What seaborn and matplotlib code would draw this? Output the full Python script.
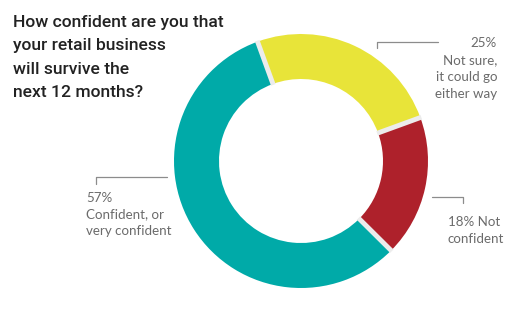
import numpy as np
import matplotlib
matplotlib.use("Agg")
import matplotlib.pyplot as plt
import seaborn as sns

# ---- data ----
categories = ["Not sure, it could go either way", "Not confident", "Confident, or very confident"]
values = [25, 18, 57]
colors = ["#E8E439", "#AE212B", "#00AAA8"]
title_lines = ["How confident are you that", "your retail business", "will survive the", "next 12 months?"]

sns.set_theme(style="white")
plt.rcParams["font.family"] = ["Lato", "DejaVu Sans"]

W, H = 521, 325
fig = plt.figure(figsize=(W / 100, H / 100), dpi=100)
ax = fig.add_axes([0, 0, 1, 1])
ax.set_xlim(0, W)
ax.set_ylim(0, H)
ax.axis("off")

def Y(y):
    return H - y

cx, cy, R, w = 301, Y(161), 127, 45
start = 110
wedges, _ = ax.pie(values, colors=colors, startangle=start, counterclock=False,
                   center=(cx, cy), radius=R, frame=True,
                   wedgeprops=dict(width=w, linewidth=0))
ax.set_xlim(0, W)
ax.set_ylim(0, H)
ax.axis("off")

# separators at wedge boundaries
cum = np.concatenate([[0], np.cumsum(values)])
for c in cum[:-1]:
    ang = np.deg2rad(start - 360 * c / sum(values))
    ax.plot([cx + (R - w - 1) * np.cos(ang), cx + (R + 1) * np.cos(ang)],
            [cy + (R - w - 1) * np.sin(ang), cy + (R + 1) * np.sin(ang)],
            color="#ECECEC", lw=3.5, solid_capstyle="butt")

# title
for i, line in enumerate(title_lines):
    ax.text(13, Y(22 + i * 23.5), line, fontsize=12.6, fontweight="medium",
            color="#222222", va="center", ha="left", family=["Roboto", "DejaVu Sans"])

lc = "#8C8C8C"
tc = "#6B6B6B"
fs = 9.6
# yellow label
ax.plot([377, 377, 438], [Y(48), Y(42), Y(42)], color=lc, lw=0.9)
for i, line in enumerate([f"{values[0]}%", "Not sure,", "it could go", "either way"]):
    ax.text(497, Y(43 + i * 17), line, fontsize=fs, color=tc, ha="right", va="center")
# red label
ax.plot([432, 463, 463], [Y(197), Y(197), Y(203)], color=lc, lw=0.9)
for i, line in enumerate([f"{values[1]}% Not", "confident"]):
    ax.text(448, Y(222 + i * 17), line, fontsize=fs, color=tc, ha="left", va="center")
# teal label
ax.plot([96, 96, 167], [Y(184), Y(177), Y(177)], color=lc, lw=0.9)
for i, line in enumerate([f"{values[2]}%", "Confident, or", "very confident"]):
    ax.text(86, Y(198 + i * 16.5), line, fontsize=fs, color=tc, ha="left", va="center")

fig.savefig("out.png", dpi=100, facecolor="white")
